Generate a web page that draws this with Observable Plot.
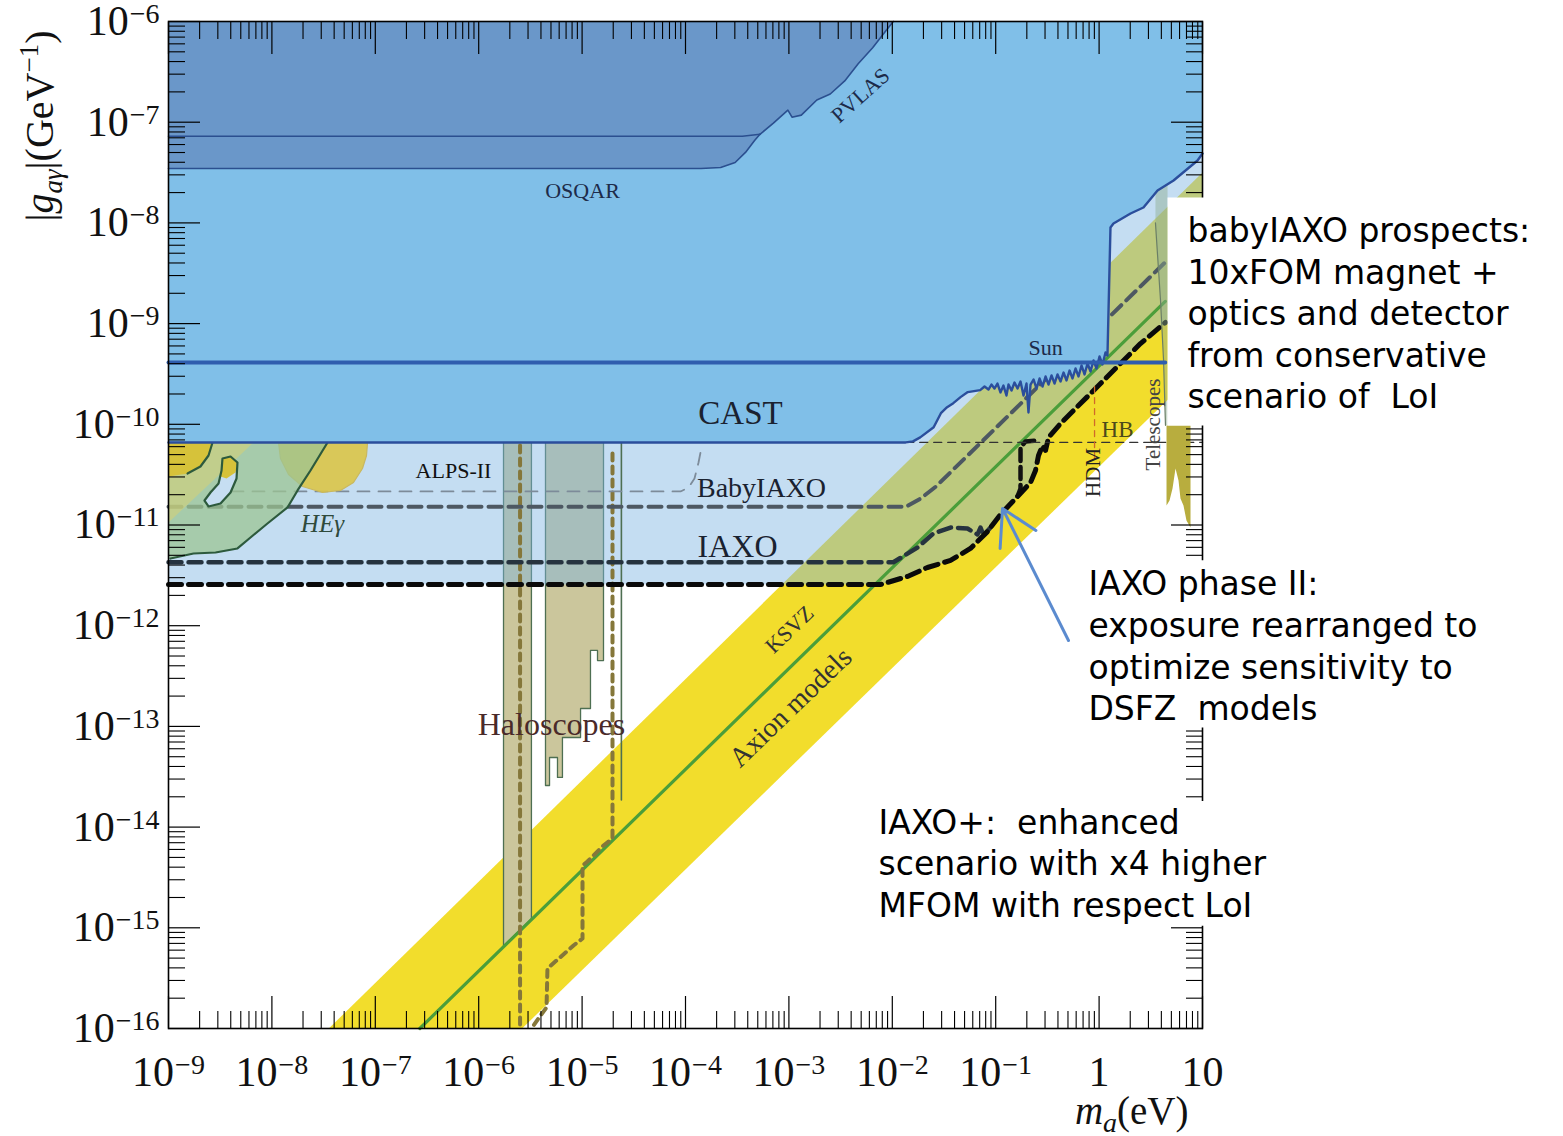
<!DOCTYPE html>
<html><head><meta charset="utf-8">
<script src="https://cdn.jsdelivr.net/npm/d3@7"></script>
<script src="https://cdn.jsdelivr.net/npm/@observablehq/plot@0.6"></script>
<style>body{margin:0;background:#fff}#chart svg{display:block}</style>
</head><body><div id="chart"></div>
<script>
// All points are [log10(m_a / eV), log10(|g_aγ| / GeV^-1)]
const xTickExp = [-9,-8,-7,-6,-5,-4,-3,-2,-1,0,1];
const xTickLabels = ["10^-9","10^-8","10^-7","10^-6","10^-5","10^-4","10^-3","10^-2","10^-1","1","10"];
const yTickExp = [-16,-15,-14,-13,-12,-11,-10,-9,-8,-7,-6];
const yTickLabels = ["10^-16","10^-15","10^-14","10^-13","10^-12","10^-11","10^-10","10^-9","10^-8","10^-7","10^-6"];

const axionBand = [[-7.45,-16],[1,-7.5],[1,-9.42],[-5.58,-16]];
const ksvz = [[-6.57,-16],[0.64,-8.78]];

const castLimit = [[-9,-10.18],[-1.87,-10.18],[-1.80,-10.17],[-1.73,-10.13],[-1.60,-10.03],[-1.53,-9.89],[-1.47,-9.83],[-1.41,-9.79],[-1.34,-9.73],[-1.27,-9.68],[-1.15,-9.66],
 [-1.108,-9.625],[-1.070,-9.655],[-1.041,-9.605],[-1.012,-9.645],[-0.983,-9.595],[-0.954,-9.684],[-0.925,-9.615],[-0.896,-9.714],[-0.876,-9.605],[-0.847,-9.664],[-0.818,-9.585],[-0.789,-9.645],[-0.760,-9.575],[-0.731,-9.714],[-0.702,-9.595],[-0.683,-9.883],[-0.663,-9.605],[-0.634,-9.555],[-0.605,-9.645],[-0.576,-9.545],[-0.547,-9.625],[-0.518,-9.525],[-0.489,-9.605],[-0.460,-9.515],[-0.431,-9.595],[-0.402,-9.505],[-0.373,-9.575],[-0.344,-9.486],[-0.315,-9.565],[-0.286,-9.466],[-0.257,-9.545],[-0.228,-9.446],[-0.199,-9.525],[-0.170,-9.416],[-0.141,-9.505],[-0.112,-9.396],[-0.083,-9.476],[-0.054,-9.366],[-0.025,-9.446],[0.004,-9.327],[0.033,-9.406],[0.062,-9.287],
 [0.081,-9.317],[0.110,-8.046],[0.139,-8.006],[0.304,-7.907],[0.429,-7.847],[0.565,-7.678],[0.720,-7.579],[0.952,-7.380],[1,-7.311]];

const pvlasCurve = [[-1.99,-6],[-2.06,-6.09],[-2.19,-6.26],[-2.33,-6.42],[-2.46,-6.59],[-2.60,-6.72],[-2.73,-6.78],[-2.88,-6.93],[-2.97,-6.95],[-3.01,-6.88],[-3.15,-7.01],[-3.28,-7.12]];
const pvlasFlat = [[-3.28,-7.12],[-3.45,-7.14],[-9,-7.14]];
const osqarCurve = [[-3.28,-7.12],[-3.33,-7.18],[-3.42,-7.30],[-3.52,-7.40],[-3.66,-7.45],[-3.85,-7.46],[-9,-7.46]];

const sunLine = [[-9,-9.386],[0.64,-9.386]];

const babyIaxo = [[-9,-10.82],[-1.87,-10.82],[-1.73,-10.74],[-1.58,-10.62],[0.64,-8.39]];
const iaxo = [[-9,-11.37],[-1.99,-11.37],[-1.756,-11.223],[-1.602,-11.084],[-1.437,-11.025],[-1.273,-11.035],[-1.176,-11.094],[-1.147,-11.025],[-1.118,-11.104],[-1.05,-11.025]];
const iaxoPlus = [[-9,-11.59],[-2.11,-11.59],[-1.853,-11.511],[-1.660,-11.422],[-1.437,-11.352],[-1.244,-11.233],[-1.079,-11.065],[-0.954,-10.896],[-0.789,-10.717],[-0.663,-10.578],[-0.615,-10.459],[-0.586,-10.310],[-0.547,-10.211],[-0.518,-10.260],[-0.489,-10.131],[-0.373,-9.992],[-0.180,-9.794],[0.014,-9.595],[0.207,-9.396],[0.400,-9.198],[0.642,-8.989]];
const iaxoPhase2 = [[-0.789,-10.717],[-0.760,-10.637],[-0.760,-10.231],[-0.712,-10.171],[-0.615,-10.161]];
const alps2 = [[-8.594,-10.667],[-4.048,-10.667],[-3.971,-10.628],[-3.913,-10.538],[-3.874,-10.379],[-3.855,-10.28]];
const hbLine = [[-1.87,-10.18],[1,-10.18]];
const hdmLine = [[-0.044,-9.625],[-0.044,-10.379]];

const halo1 = [[-5.76,-10.18],[-5.49,-10.18],[-5.49,-14.91],[-5.76,-15.18]];
const halo2 = [[-5.354,-10.18],[-4.793,-10.18],[-4.793,-12.346],[-4.851,-12.346],[-4.851,-12.246],[-4.919,-12.246],[-4.919,-12.822],[-5.015,-12.822],[-5.015,-13.110],[-5.190,-13.110],[-5.190,-13.507],[-5.238,-13.507],[-5.238,-13.309],[-5.315,-13.309],[-5.315,-13.587],[-5.354,-13.587]];
const halo3 = [[-4.62,-10.18],[-4.62,-13.73]];
const haloDashA = [[-5.60,-10.21],[-5.60,-16]];
const haloDashB = [[-4.706,-10.29],[-4.706,-14.113],[-4.793,-14.183],[-4.948,-14.342],[-4.996,-14.381],[-4.996,-15.106],[-5.083,-15.176],[-5.335,-15.404],[-5.344,-15.791],[-5.402,-15.871],[-5.49,-16]];

const heGamma = [[-9,-10.181],[-7.462,-10.181],[-7.627,-10.459],[-7.752,-10.657],[-7.849,-10.826],[-8.043,-10.985],[-8.207,-11.124],[-8.333,-11.233],[-8.545,-11.273],[-8.758,-11.283],[-8.981,-11.333],[-9,-11.333]];
const heTriangle = [[-9,-10.181],[-8.178,-10.181],[-9,-10.975]];
const blobLeft = [[-9,-10.181],[-8.574,-10.181],[-8.613,-10.310],[-8.691,-10.419],[-8.816,-10.489],[-9,-10.518]];
const blobRight = [[-7.936,-10.181],[-7.917,-10.340],[-7.839,-10.499],[-7.704,-10.618],[-7.511,-10.677],[-7.337,-10.657],[-7.211,-10.578],[-7.124,-10.439],[-7.085,-10.310],[-7.075,-10.181]];
const heLoop = [[-8.478,-10.340],[-8.400,-10.320],[-8.333,-10.379],[-8.342,-10.538],[-8.400,-10.677],[-8.497,-10.786],[-8.613,-10.816],[-8.652,-10.757],[-8.594,-10.677],[-8.516,-10.588],[-8.487,-10.459],[-8.478,-10.340]];
const loopCap = [[-8.478,-10.340],[-8.400,-10.320],[-8.333,-10.379],[-8.352,-10.479],[-8.439,-10.538],[-8.497,-10.518],[-8.487,-10.419]];

const telescopes = [[0.652,-10.012],[0.884,-10.012],[0.884,-11.025],[0.845,-10.955],[0.816,-10.806],[0.787,-10.737],[0.768,-10.558],[0.739,-10.439],[0.710,-10.637],[0.681,-10.757],[0.652,-10.806]];
const telStrip = [[0.545,-7.55],[0.662,-7.55],[0.662,-10.01],[0.642,-10.01],[0.623,-9.36],[0.594,-8.77],[0.545,-8.0]];

const labels = [
  {t:"PVLAS", p:[-2.308,-6.735], s:22, r:-42, c:"#1d2b4a"},
  {t:"OSQAR", p:[-4.996,-7.678], s:22, c:"#1d2b4a"},
  {t:"CAST", p:[-3.468,-9.893], s:33, c:"#1a2230"},
  {t:"Sun", p:[-0.518,-9.237], s:22, c:"#1d2b4a"},
  {t:"ALPS-II", p:[-6.244,-10.459], s:22, c:"#111"},
  {t:"BabyIAXO", p:[-3.265,-10.628], s:28, c:"#1a2230"},
  {t:"IAXO", p:[-3.497,-11.213], s:32, c:"#1a2230"},
  {t:"HEγ", p:[-7.511,-10.995], s:25, c:"#2f4a3c", it:true},
  {t:"Haloscopes", p:[-5.296,-12.981], s:32, c:"#4a2a2a"},
  {t:"KSVZ", p:[-2.994,-12.038], s:22, r:-44, c:"#333"},
  {t:"Axion models", p:[-2.985,-12.812], s:28, r:-44, c:"#333"},
  {t:"HB", p:[0.178,-10.053], s:23, c:"#4b4a1b"},
  {t:"HDM", p:[-0.054,-10.478], s:21, r:-90, c:"#222"},
  {t:"Telescopes", p:[0.526,-10.002], s:21, r:-90, c:"#444"}
];

const notes = [
  {t:"babyIAXO prospects:\n10xFOM magnet +\noptics and detector\nfrom conservative\nscenario of  LoI", p:[0.855,-8.885]},
  {t:"IAXO phase II:\nexposure rearranged to\noptimize sensitivity to\nDSFZ  models", p:[-0.103,-12.187]},
  {t:"IAXO+:  enhanced\nscenario with x4 higher\nMFOM with respect LoI", p:[-2.133,-14.347]}
];
const noteArrow = [{from:[-0.296,-12.147], to:[-0.934,-10.836]}];
// white backgrounds behind the annotation texts
const whiteBoxes = [
  [[0.662,-7.748],[5,-7.748],[5,-10.012],[0.662,-10.012]],
  [[-0.18,-11.35],[5,-11.35],[5,-13.01],[-0.18,-13.01]],
  [[-2.21,-13.74],[1.76,-13.74],[1.76,-14.98],[-2.21,-14.98]]
];

const P = pts => pts.map(([a,b]) => ({m: 10 ** a, g: 10 ** b}));
const region = (pts, fill, o = {}) => Plot.line(P(pts), {x:"m", y:"g", fill, stroke:"none", ...o});
const path = (pts, stroke, w, o = {}) => Plot.line(P(pts), {x:"m", y:"g", stroke, strokeWidth:w, ...o});
const closed = pts => pts.concat([pts[0]]);

const xMajor = xTickExp.map(e => Number("1e" + e));
const yMajor = yTickExp.map(e => Number("1e" + e));
const minorOf = exps => exps.slice(0,-1).flatMap(e => [2,3,4,5,6,7,8,9].map(k => k * Number("1e" + e)));
const xMinor = minorOf(xTickExp), yMinor = minorOf(yTickExp);
const fmtX = d => xTickLabels[xTickExp.indexOf(Math.round(Math.log10(d)))];
const fmtY = d => yTickLabels[yTickExp.indexOf(Math.round(Math.log10(d)))];

const lightBlue = iaxoPlus.concat([[1,-8.99],[1,-6],[-9,-6]]);
const castRegion = castLimit.concat([[1,-6],[-9,-6]]);
const pvlasRegion = [[-9,-6]].concat(pvlasCurve, osqarCurve.slice(1));

const serif = "Liberation Serif";
const X_TITLE = "m_a(eV)", Y_TITLE = "|g_ay|(GeV^-1)";
const marks = [
  region(axionBand, "#f2dd2c"),
  region(halo1, "#cbc69c"), path(closed(halo1), "#4e6f52", 1.3),
  region(halo2, "#cbc69c"), path(closed(halo2), "#4e6f52", 1.3),
  region(lightBlue, "#7cb3e2", {fillOpacity: 0.45}),
  path(halo3, "#4e6f52", 1.6),
  path(ksvz, "#4b9e3a", 3.2),
  path(haloDashA, "#85773a", 4, {strokeDasharray:"7,6"}),
  path(haloDashB, "#85773a", 4, {strokeDasharray:"7,6"}),
  path(alps2, "#7d8b99", 1.8, {strokeDasharray:"12,9"}),
  path(babyIaxo, "#4d5862", 4, {strokeDasharray:"13,7"}),
  path(iaxo, "#26333f", 4.5, {strokeDasharray:"13,7"}),
  path(iaxoPhase2, "#111", 4.5, {strokeDasharray:"12,6"}),
  path(iaxoPlus, "#0a0a0a", 5, {strokeDasharray:"13,7"}),
  path(hbLine, "#333", 1.3, {strokeDasharray:"8,6"}),
  path(hdmLine, "#d06a2a", 1.3, {strokeDasharray:"6,5"}),
  region(blobRight, "#dcc548", {fillOpacity: 0.9}), path(blobRight, "#c9b860", 1.2),
  region(heGamma, "#9cc493", {fillOpacity: 0.75}),
  region(heTriangle, "#dcd16e", {fillOpacity: 0.5}),
  region(blobLeft, "#d6c23a"),
  region(heLoop, "#c6def2"),
  region(loopCap, "#d6c23a"),
  path(heGamma.slice(1, -1), "#2d5a3d", 2.2),
  path(blobLeft.slice(1, -1), "#2d5a3d", 2.2),
  path(heLoop, "#2d5a3d", 2.2),
  region(telStrip, "#8fae8e", {fillOpacity: 0.45}), path(telStrip.slice(-4), "#6b7f66", 1.2),
  region(telescopes, "#b8ad3e"),
  region(castRegion, "#80bfe8"),
  path(castLimit, "#2b4e9c", 2.4),
  region(pvlasRegion, "#6a97c9"),
  path(pvlasCurve, "#2b4f8f", 1.6), path(pvlasFlat, "#2b4f8f", 1.6), path(osqarCurve, "#2b4f8f", 1.6),
  path(sunLine, "#2f5dae", 4),
  ...labels.map(l => Plot.text([l], {x: d => 10 ** d.p[0], y: d => 10 ** d.p[1], text: d => d.t, rotate: l.r || 0,
      fontSize: l.s, fill: l.c, fontFamily: serif, fontStyle: l.it ? "italic" : "normal"})),
  // axes: inward major + minor ticks on all four sides
  ...["bottom","top"].flatMap(a => [
    Plot.axisX(xMajor, {anchor: a, tickSize: -32, fill: "none", stroke: "black", strokeWidth: 1.2}),
    Plot.axisX(xMinor, {anchor: a, tickSize: -17, fill: "none", stroke: "black", strokeWidth: 1.1})]),
  ...["left","right"].flatMap(a => [
    Plot.axisY(yMajor, {anchor: a, tickSize: -32, fill: "none", stroke: "black", strokeWidth: 1.2}),
    Plot.axisY(yMinor, {anchor: a, tickSize: -17, fill: "none", stroke: "black", strokeWidth: 1.1})]),
  Plot.axisX(xMajor, {anchor: "bottom", tickSize: 0, tickPadding: 28, tickFormat: fmtX, fontSize: 42, fontFamily: serif, label: null, fill: "#111"}),
  Plot.axisY(yMajor, {anchor: "left", tickSize: 0, tickPadding: 9, tickFormat: fmtY, fontSize: 42, fontFamily: serif, label: null, fill: "#111"}),
  Plot.frame({stroke: "black", strokeWidth: 1.6}),
  Plot.text([X_TITLE], {frameAnchor: "bottom-right", text: d => d, textAnchor: "end", lineAnchor: "middle", dx: -14, dy: 83, fontSize: 39, fontFamily: serif, fill: "#111"}),
  Plot.text([Y_TITLE], {frameAnchor: "top-left", text: d => d, textAnchor: "end", lineAnchor: "middle", rotate: -90, dx: -128, dy: 9, fontSize: 40, fontFamily: serif, fill: "#111"}),
  ...whiteBoxes.map(b => region(b, "white")),
  Plot.arrow(noteArrow, {x1: d => 10 ** d.from[0], y1: d => 10 ** d.from[1], x2: d => 10 ** d.to[0], y2: d => 10 ** d.to[1], stroke: "#5b8bcf", strokeWidth: 3, headLength: 20}),
  Plot.text(notes, {x: d => 10 ** d.p[0], y: d => 10 ** d.p[1], text: d => d.t, textAnchor: "start", lineAnchor: "middle",
      fontFamily: "DejaVu Sans", fontSize: 33, lineHeight: 1.26, fill: "#000"})
];

const chart = Plot.plot({
  width: 1563, height: 1136,
  marginLeft: 168, marginRight: 361, marginTop: 21, marginBottom: 108,
  x: {type: "log", domain: [1e-9, 10]},
  y: {type: "log", domain: [1e-16, 1e-6]},
  style: {fontFamily: serif, background: "white", overflow: "visible"},
  marks
});
document.getElementById("chart").appendChild(chart);

// rich text: superscripts / subscripts / italics
const NS = "http://www.w3.org/2000/svg";
function rich(el, parts) {
  el.textContent = "";
  for (const p of parts) {
    const ts = document.createElementNS(NS, "tspan");
    ts.textContent = p.t;
    if (p.it) ts.setAttribute("font-style", "italic");
    if (p.size) ts.setAttribute("font-size", p.size);
    if (p.dy) ts.setAttribute("dy", p.dy);
    if (p.dx) ts.setAttribute("dx", p.dx);
    el.appendChild(ts);
  }
}
chart.querySelectorAll('g[aria-label="x-axis tick label"] text, g[aria-label="y-axis tick label"] text').forEach(el => {
  const s = el.textContent;
  if (s.includes("^")) {
    const [b, e] = s.split("^");
    rich(el, [{t: b}, {t: e.replace("-", "\u2212"), size: 28, dy: -12, dx: 1}]);
  }
});
chart.querySelectorAll("text").forEach(el => {
  if (el.textContent === X_TITLE) rich(el, [{t: "m", it: 1}, {t: "a", it: 1, size: 28, dy: 8}, {t: "(eV)", dy: -8}]);
  else if (el.textContent === Y_TITLE) rich(el, [{t: "|"}, {t: "g", it: 1}, {t: "aγ", it: 1, size: 27, dy: 9}, {t: "|(GeV", dy: -9}, {t: "\u22121", size: 27, dy: -15}, {t: ")", dy: 15}]);
});
</script></body></html>
